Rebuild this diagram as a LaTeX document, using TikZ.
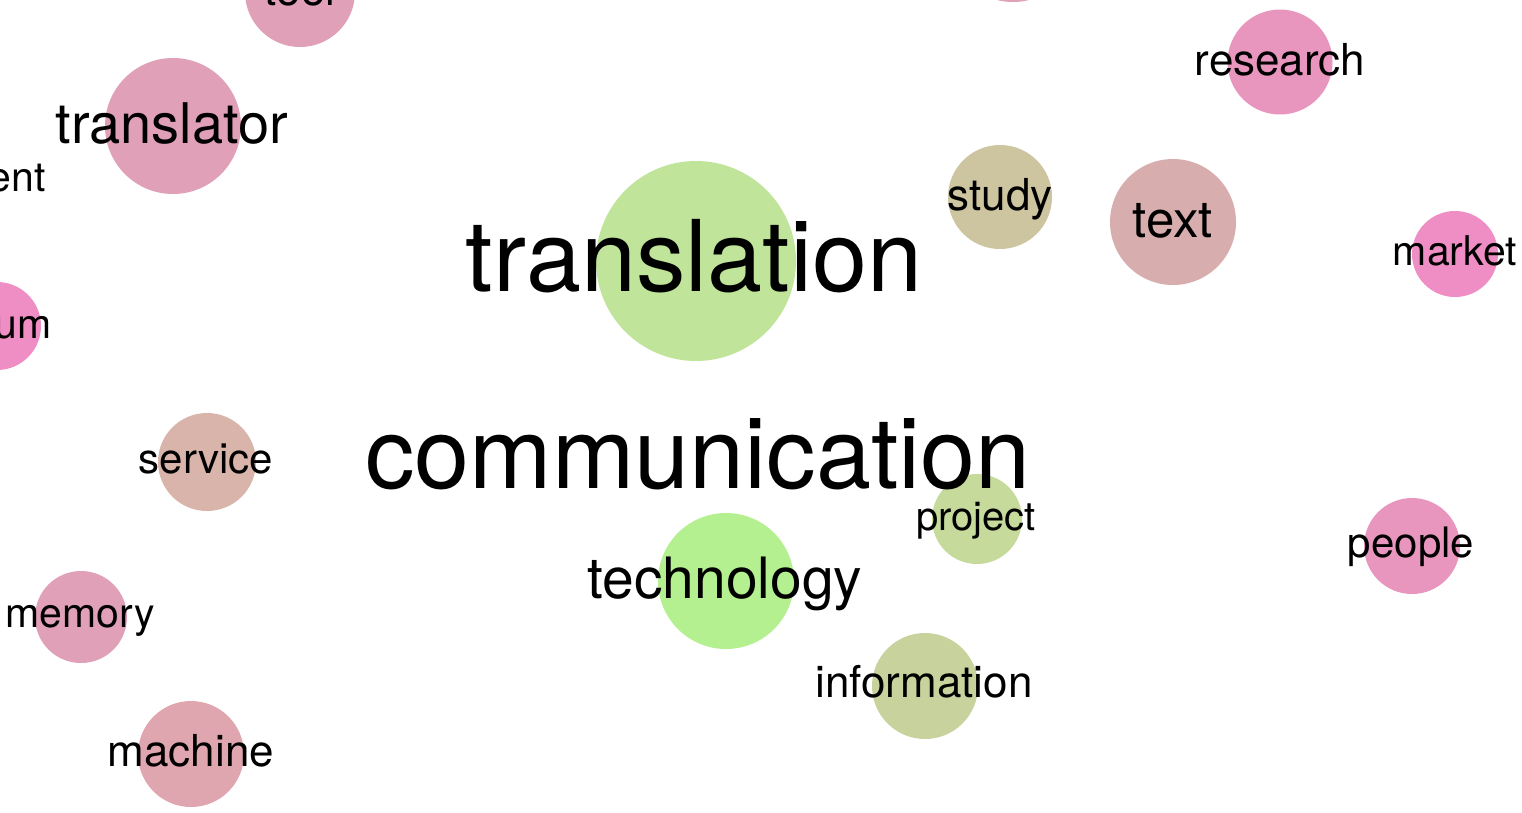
\documentclass[tikz,border=0pt]{standalone}
\usepackage{fontspec}
\setmainfont{TeX Gyre Heros}
\usetikzlibrary{positioning}

\definecolor{cGreen}{HTML}{BFE49A}
\definecolor{cLime}{HTML}{B4F08F}
\definecolor{cOlive}{HTML}{C6DA9C}
\definecolor{cKhaki}{HTML}{C8D29C}
\definecolor{cSand}{HTML}{CDC5A0}
\definecolor{cRose}{HTML}{E0A0B8}
\definecolor{cDust}{HTML}{D8ADAD}
\definecolor{cTan}{HTML}{D8B4AA}
\definecolor{cMauve}{HTML}{DFA6B0}
\definecolor{cPink}{HTML}{E896BE}
\definecolor{cHot}{HTML}{EE8EC4}

\begin{document}
\begin{tikzpicture}[x=1pt, y=-1pt,
    bubble/.style={circle, inner sep=0pt, draw=none, minimum size=#1},
    word/.style={anchor=base, inner sep=0pt, text=black, font=\fontsize{#1}{#1}\selectfont},
    cutword/.style={word=#1, anchor=base east},
]
\useasboundingbox (0,0) rectangle (1522,812);
\clip (0,0) rectangle (1522,812);

% Bubbles
\node[bubble=200pt, fill=cGreen] (translationB) at (696,261) {};
\node[bubble=136pt, fill=cRose]  (translatorB)  at (173,126) {};
\node[bubble=110pt, fill=cRose]  (toolB)        at (300,-8)  {};
\node[bubble=130pt, fill=cRose]  (topB)         at (1013,-63) {};
\node[bubble=105pt, fill=cPink]  (researchB)    at (1280,62) {};
\node[bubble=104pt, fill=cSand]  (studyB)       at (1000,197) {};
\node[bubble=126pt, fill=cDust]  (textB)        at (1173,222) {};
\node[bubble=86pt,  fill=cHot]   (marketB)      at (1455,254) {};
\node[bubble=88pt,  fill=cHot]   (umB)          at (-3,326)  {};
\node[bubble=98pt,  fill=cTan]   (serviceB)     at (207,462) {};
\node[bubble=136pt, fill=cLime]  (technologyB)  at (726,581) {};
\node[bubble=90pt,  fill=cOlive] (projectB)     at (977,519) {};
\node[bubble=96pt,  fill=cPink]  (peopleB)      at (1412,546) {};
\node[bubble=92pt,  fill=cRose]  (memoryB)      at (81,617)  {};
\node[bubble=106pt, fill=cKhaki] (informationB) at (925,686) {};
\node[bubble=106pt, fill=cMauve] (machineB)     at (191,754) {};

% Words
\node[word=99] (translation)   at (694,291) {translation};
\node[word=99] (communication) at (698,488) {communication};
\node[word=57] (technology)    at (725,598) {technology};
\node[word=56] (translator)    at (172,143) {translator};
\node[word=44] (tool)          at (300,5)   {tool};
\node[word=51] (text)          at (1173,237) {text};
\node[word=44] (research)      at (1280,75) {research};
\node[word=44] (study)         at (1000,210) {study};
\node[word=41] (market)        at (1455,265) {market};
\node[word=42] (service)       at (206,473) {service};
\node[word=40] (project)       at (976,530) {project};
\node[word=42] (people)        at (1411,557) {people};
\node[word=41] (memory)        at (80,627)  {memory};
\node[word=44] (information)   at (924,697) {information};
\node[word=44] (machine)       at (191,766) {machine};
\node[cutword=41] (ent)        at (46,191)  {ent};
\node[cutword=41] (um)         at (52,338)  {um};
\end{tikzpicture}
\end{document}
